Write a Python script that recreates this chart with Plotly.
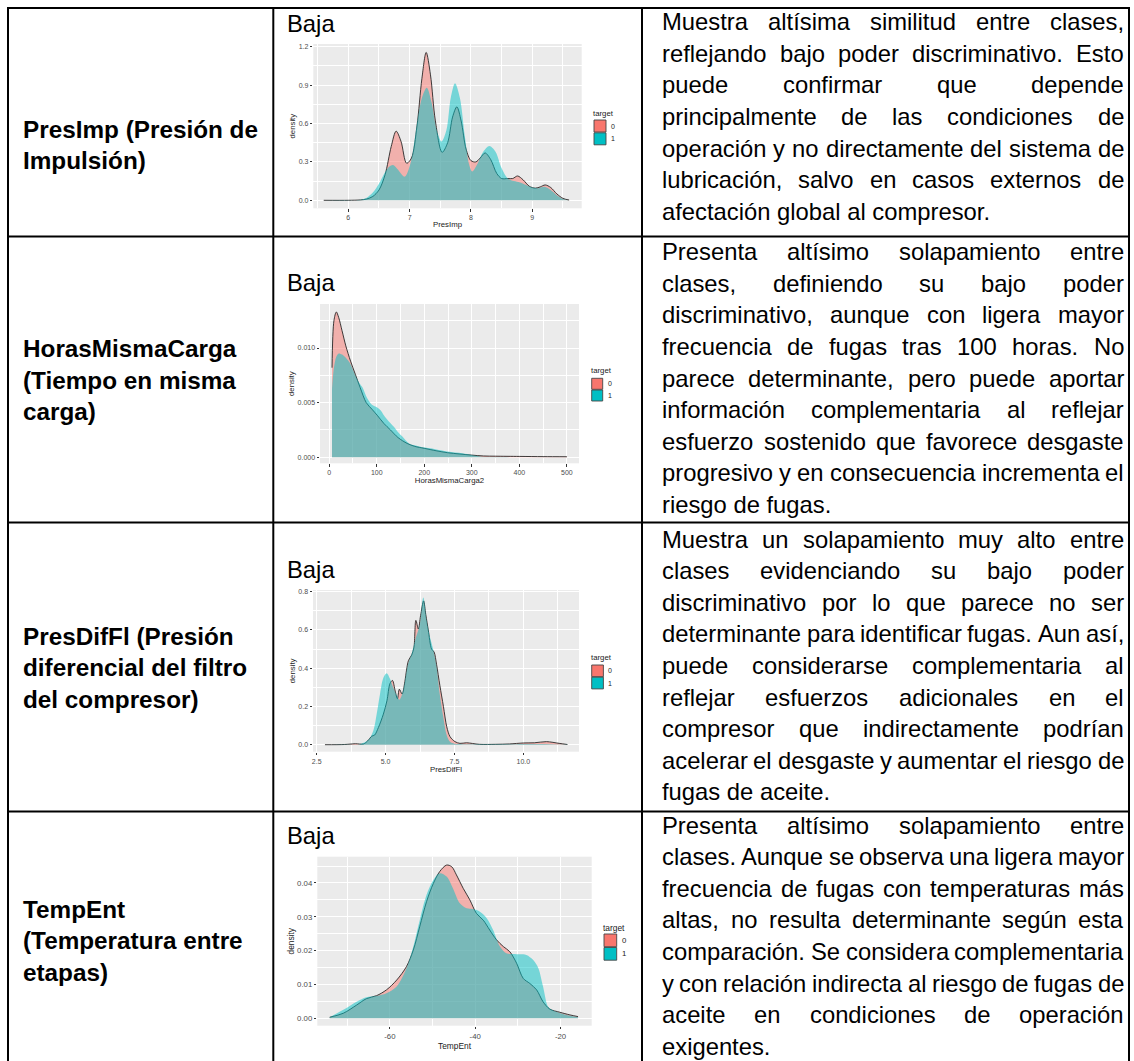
import plotly.graph_objects as go

W, H = 1134, 1061

# ---------------- density data ----------------
# PresImp
presimp_x0 = [5.6, 6.0, 6.2, 6.3, 6.4, 6.5, 6.6, 6.7, 6.78, 6.86, 6.95, 7.03, 7.12, 7.2, 7.27, 7.34, 7.42, 7.53, 7.62, 7.7,
              7.77, 7.84, 7.92, 8.0, 8.08, 8.15, 8.23, 8.32, 8.42, 8.5, 8.6, 8.68, 8.76, 8.85, 8.95, 9.05, 9.13, 9.21, 9.3, 9.4,
              9.5, 9.6]
presimp_y0 = [0.0, 0.0, 0.003, 0.01, 0.03, 0.08, 0.2, 0.42, 0.54, 0.46, 0.29, 0.33, 0.58, 0.95, 1.155, 0.98, 0.62, 0.375, 0.45, 0.65,
              0.73, 0.62, 0.40, 0.31, 0.30, 0.33, 0.37, 0.32, 0.21, 0.17, 0.17, 0.17, 0.19, 0.16, 0.11, 0.095, 0.105, 0.12, 0.10, 0.05,
              0.015, 0.002]
presimp_x1 = [5.6, 6.1, 6.2, 6.3, 6.4, 6.5, 6.6, 6.67, 6.73, 6.8, 6.92, 7.02, 7.12, 7.2, 7.28, 7.36, 7.44, 7.52, 7.6, 7.67,
              7.74, 7.82, 7.9, 7.97, 8.02, 8.1, 8.2, 8.3, 8.4, 8.5, 8.6, 8.7, 8.8, 8.9, 9.0, 9.1, 9.2, 9.3, 9.4, 9.5, 9.6]
presimp_y1 = [0.0, 0.0, 0.004, 0.02, 0.06, 0.13, 0.22, 0.265, 0.276, 0.245, 0.185, 0.3, 0.6, 0.8, 0.88, 0.76, 0.55, 0.46, 0.55, 0.8,
              0.915, 0.8, 0.5, 0.28, 0.225, 0.28, 0.38, 0.425, 0.38, 0.25, 0.17, 0.15, 0.14, 0.12, 0.10, 0.095, 0.105, 0.08, 0.04, 0.01, 0.0]

# HorasMismaCarga2
horas_x0 = [6, 10, 15, 20, 27, 35, 45, 55, 65, 78, 90, 101, 115, 129, 145, 164, 180, 200, 225, 249, 275, 300, 325, 350, 400, 450, 500]
horas_y0 = [0.0082, 0.0125, 0.0133, 0.0128, 0.0116, 0.0102, 0.0088, 0.0076, 0.0064, 0.0050, 0.0044, 0.00385, 0.0031, 0.0025,
            0.0018, 0.00127, 0.001, 0.00082, 0.0006, 0.00042, 0.0003, 0.0002, 0.00012, 0.0001, 0.00008, 0.00006, 0.00005]
horas_x1 = [6, 10, 15, 20, 27, 35, 44, 53, 62, 70, 80, 90, 101, 108, 115, 125, 136, 145, 154, 168, 180, 192, 213, 249, 280, 300,
            320, 350, 400, 450, 500]
horas_y1 = [0.0063, 0.0082, 0.0092, 0.0095, 0.0094, 0.0091, 0.0086, 0.0077, 0.0069, 0.0064, 0.0054, 0.0048, 0.00455, 0.0043,
            0.00385, 0.0033, 0.0028, 0.0023, 0.0019, 0.00127, 0.0011, 0.00097, 0.00082, 0.00052, 0.00036, 0.0002, 0.00006,
            0.00002, 0.00001, 0.0, 0.0]

# PresDifFl
presdif_x0 = [2.8, 3.5, 3.9, 4.2, 4.35, 4.5, 4.6, 4.74, 4.92, 5.05, 5.16, 5.25, 5.35, 5.43, 5.5, 5.6, 5.7, 5.76, 5.83, 5.95,
              6.03, 6.1, 6.19, 6.27, 6.38, 6.46, 6.55, 6.67, 6.76, 6.85, 6.97, 7.1, 7.22, 7.34, 7.52, 7.7, 7.94, 8.4, 9.0, 9.5,
              10.0, 10.4, 10.84, 11.3, 11.6]
presdif_y0 = [0.0, 0.001, 0.005, 0.004, 0.02, 0.045, 0.05, 0.09, 0.16, 0.23, 0.32, 0.336, 0.28, 0.24, 0.29, 0.265, 0.33, 0.39,
              0.44, 0.47, 0.51, 0.65, 0.605, 0.675, 0.752, 0.68, 0.6, 0.5, 0.485, 0.42, 0.31, 0.2, 0.094, 0.042, 0.016, 0.007,
              0.01, 0.002, 0.002, 0.004, 0.009, 0.01, 0.016, 0.007, 0.001]
presdif_x1 = [2.8, 3.5, 4.07, 4.37, 4.56, 4.68, 4.8, 4.92, 5.04, 5.16, 5.25, 5.4, 5.5, 5.64, 5.76, 5.83, 5.95, 6.1, 6.25, 6.37,
              6.49, 6.61, 6.73, 6.85, 6.97, 7.1, 7.22, 7.34, 7.5, 7.8, 8.5, 9.5, 10.5, 11.0, 11.6]
presdif_y1 = [0.0, 0.001, 0.003, 0.024, 0.076, 0.163, 0.267, 0.35, 0.374, 0.345, 0.31, 0.258, 0.235, 0.284, 0.38, 0.43, 0.476,
              0.56, 0.633, 0.77, 0.65, 0.563, 0.497, 0.406, 0.26, 0.14, 0.05, 0.015, 0.005, 0.003, 0.002, 0.003, 0.004, 0.003, 0.001]

# TempEnt
tempent_x0 = [-74.1, -70.9, -67.8, -65.5, -63.1, -60.8, -58.4, -56.1, -54.5, -53.0, -51.4, -49.8, -48.3, -46.7, -45.5, -44.4,
              -42.8, -41.25, -39.7, -38.1, -36.6, -35.0, -33.4, -31.9, -30.3, -28.75, -27.2, -25.6, -24.1, -22.5, -20.2, -17.8, -15.9]
tempent_y0 = [0.0003, 0.0015, 0.0039, 0.0058, 0.0067, 0.0084, 0.0113, 0.0153, 0.0202, 0.0271, 0.0345, 0.0399, 0.0434, 0.0453,
              0.0448, 0.0424, 0.0384, 0.035, 0.031, 0.029, 0.0261, 0.0232, 0.0212, 0.0197, 0.0163, 0.0118, 0.0103, 0.0084,
              0.0049, 0.0027, 0.0018, 0.001, 0.0005]
tempent_x1 = [-74.1, -70.9, -67.8, -65.5, -63.1, -60.8, -58.4, -56.1, -54.5, -53.0, -51.4, -49.8, -48.3, -46.7, -45.2, -43.6,
              -42.0, -40.5, -38.9, -37.3, -35.8, -34.2, -32.7, -31.1, -29.5, -28.0, -26.4, -25.2, -24.1, -22.9, -21.7, -19.4, -15.9]
tempent_y1 = [0.0003, 0.0025, 0.0049, 0.0062, 0.0066, 0.0074, 0.0094, 0.0148, 0.0212, 0.029, 0.0365, 0.0409, 0.0429, 0.0419,
              0.0384, 0.034, 0.0325, 0.0323, 0.0315, 0.0296, 0.0261, 0.0212, 0.0192, 0.019, 0.0189, 0.0187, 0.0172, 0.0148,
              0.0094, 0.0034, 0.0023, 0.0013, 0.0003]

# ---------------- tick labels ----------------
presimp_xticks = [6, 7, 8, 9]
presimp_xlabels = ["6", "7", "8", "9"]
presimp_yticks = [0, 0.3, 0.6, 0.9, 1.2]
presimp_ylabels = ["0.0", "0.3", "0.6", "0.9", "1.2"]
horas_xticks = [0, 100, 200, 300, 400, 500]
horas_xlabels = ["0", "100", "200", "300", "400", "500"]
horas_yticks = [0, 0.005, 0.010]
horas_ylabels = ["0.000", "0.005", "0.010"]
presdif_xticks = [2.5, 5.0, 7.5, 10.0]
presdif_xlabels = ["2.5", "5.0", "7.5", "10.0"]
presdif_yticks = [0, 0.2, 0.4, 0.6, 0.8]
presdif_ylabels = ["0.0", "0.2", "0.4", "0.6", "0.8"]
tempent_xticks = [-60, -40, -20]
tempent_xlabels = ["-60", "-40", "-20"]
tempent_yticks = [0, 0.01, 0.02, 0.03, 0.04]
tempent_ylabels = ["0.00", "0.01", "0.02", "0.03", "0.04"]

series_names = ["0", "1"]
legend_title = "target"

# ---------------- table text ----------------
col1_text = [
    ["PresImp (Presión de", "Impulsión)"],
    ["HorasMismaCarga", "(Tiempo en misma", "carga)"],
    ["PresDifFl (Presión", "diferencial del filtro", "del compresor)"],
    ["TempEnt", "(Temperatura entre", "etapas)"],
]
col2_text = ["Baja", "Baja", "Baja", "Baja"]
col3_text = [
    ["Muestra altísima similitud entre clases,",
     "reflejando bajo poder discriminativo. Esto",
     "puede confirmar que depende",
     "principalmente de las condiciones de",
     "operación y no directamente del sistema de",
     "lubricación, salvo en casos externos de",
     "afectación global al compresor."],
    ["Presenta altísimo solapamiento entre",
     "clases, definiendo su bajo poder",
     "discriminativo, aunque con ligera mayor",
     "frecuencia de fugas tras 100 horas. No",
     "parece determinante, pero puede aportar",
     "información complementaria al reflejar",
     "esfuerzo sostenido que favorece desgaste",
     "progresivo y en consecuencia incrementa el",
     "riesgo de fugas."],
    ["Muestra un solapamiento muy alto entre",
     "clases evidenciando su bajo poder",
     "discriminativo por lo que parece no ser",
     "determinante para identificar fugas. Aun así,",
     "puede considerarse complementaria al",
     "reflejar esfuerzos adicionales en el",
     "compresor que indirectamente podrían",
     "acelerar el desgaste y aumentar el riesgo de",
     "fugas de aceite."],
    ["Presenta altísimo solapamiento entre",
     "clases. Aunque se observa una ligera mayor",
     "frecuencia de fugas con temperaturas más",
     "altas, no resulta determinante según esta",
     "comparación. Se considera complementaria",
     "y con relación indirecta al riesgo de fugas de",
     "aceite en condiciones de operación",
     "exigentes."],
]

# ---------------- layout constants ----------------
FONT = "Liberation Sans, Arial, Helvetica, sans-serif"
FS = 23.8
FSB = 24.3
LS = 31.6
RED = "#F8766D"
CYAN = "#00BFC4"
RED_FILL = "rgba(248,118,109,0.5)"
CYAN_FILL = "rgba(0,191,196,0.5)"

# Arial / Liberation Sans advance widths (1/1000 em)
ARIAL = {' ': 278, ',': 278, '.': 278, '(': 333, ')': 333, '-': 333,
         'A': 667, 'B': 667, 'C': 722, 'D': 722, 'E': 667, 'F': 611, 'G': 778, 'H': 722, 'I': 278, 'J': 500,
         'K': 667, 'L': 556, 'M': 833, 'N': 722, 'O': 778, 'P': 667, 'Q': 778, 'R': 722, 'S': 667, 'T': 611,
         'U': 722, 'V': 667, 'W': 944, 'X': 667, 'Y': 667, 'Z': 611,
         'a': 556, 'b': 556, 'c': 500, 'd': 556, 'e': 556, 'f': 278, 'g': 556, 'h': 556, 'i': 222, 'j': 222,
         'k': 500, 'l': 222, 'm': 833, 'n': 556, 'o': 556, 'p': 556, 'q': 556, 'r': 333, 's': 500, 't': 278,
         'u': 556, 'v': 500, 'w': 722, 'x': 500, 'y': 500, 'z': 500,
         'á': 556, 'é': 556, 'í': 278, 'ó': 556, 'ú': 556, 'ñ': 556}


def text_width(s, size):
    return sum(ARIAL.get(c, 556) for c in s) / 1000.0 * size


def fx(px):
    return px / W


def fy(py):
    return 1 - py / H


annotations = []
shapes = []


def add_text(x, y, text, size, anchor="left", bold=False, color="black", angle=0):
    annotations.append(dict(
        x=fx(x), y=fy(y), xref="paper", yref="paper",
        text=("<b>%s</b>" % text) if bold else text,
        showarrow=False, xanchor=anchor, yanchor="middle",
        borderpad=0, borderwidth=0, textangle=angle,
        font=dict(family=FONT, size=size, color=color)))


# ---------------- table borders ----------------
TX0, TX1 = 8, 1129
COLS = [273.3, 642]
ROWS = [8, 236.5, 522.5, 811.5]
for y in ROWS:
    shapes.append(dict(type="line", xref="paper", yref="paper", x0=fx(TX0 - 1), x1=fx(TX1 + 1), y0=fy(y), y1=fy(y),
                       line=dict(color="black", width=2)))
for x in [TX0] + COLS + [TX1]:
    shapes.append(dict(type="line", xref="paper", yref="paper", x0=fx(x), x1=fx(x), y0=fy(ROWS[0] - 1), y1=fy(H + 5),
                       line=dict(color="black", width=2)))

# ---------------- column 1 (bold names) ----------------
col1_first = [129, 348.7, 636, 909]
for r, lines in enumerate(col1_text):
    for i, line in enumerate(lines):
        add_text(23, col1_first[r] + i * LS, line, FSB, bold=True)

# ---------------- column 2 ("Baja") ----------------
col2_y = [23, 282.5, 569.5, 835.8]
for r, t in enumerate(col2_text):
    add_text(287, col2_y[r], t, FS)

# ---------------- column 3 (justified paragraphs) ----------------
TL, TR = 662, 1124
col3_first = [21.7, 251.7, 539, 825]
for r, lines in enumerate(col3_text):
    for i, line in enumerate(lines):
        y = col3_first[r] + i * LS
        words = line.split(" ")
        if i == len(lines) - 1 or len(words) == 1:
            add_text(TL, y, line, FS)
            continue
        widths = [text_width(w, FS) for w in words]
        gap = (TR - TL - sum(widths)) / (len(words) - 1)
        x = TL
        for j, w in enumerate(words):
            if j == len(words) - 1:
                add_text(TR, y, w, FS, anchor="right")
            else:
                add_text(x, y, w, FS)
            x += widths[j] + gap

# ---------------- density panels ----------------
panels = [
    dict(x0=presimp_x0, y0=presimp_y0, x1=presimp_x1, y1=presimp_y1,
         box=(313.3, 581.7, 44, 208.3), xr=[5.43, 9.805], yr=[-0.0625, 1.221],
         xt=presimp_xticks, xl=presimp_xlabels, yt=presimp_yticks, yl=presimp_ylabels,
         xminor=0.5, yminor=0.15, xtitle="PresImp", tick=7, title=7.8,
         leg=(594, 113, 120, 12, 12.8)),
    dict(x0=horas_x0, y0=horas_y0, x1=horas_x1, y1=horas_y1,
         box=(320, 579, 304, 463.3), xr=[-19.3, 525.5], yr=[-0.00055, 0.01403],
         xt=horas_xticks, xl=horas_xlabels, yt=horas_yticks, yl=horas_ylabels,
         xminor=50, yminor=0.0025, xtitle="HorasMismaCarga2", tick=7, title=7.8,
         leg=(591.7, 370.7, 378.3, 11, 11.7)),
    dict(x0=presdif_x0, y0=presdif_y0, x1=presdif_x1, y1=presdif_y1,
         box=(313, 579, 590, 751.7), xr=[2.366, 12.02], yr=[-0.0366, 0.809],
         xt=presdif_xticks, xl=presdif_xlabels, yt=presdif_yticks, yl=presdif_ylabels,
         xminor=1.25, yminor=0.1, xtitle="PresDifFl", tick=7, title=7.8,
         leg=(591.7, 657.3, 665, 11.7, 12.2)),
    dict(x0=tempent_x0, y0=tempent_y0, x1=tempent_x1, y1=tempent_y1,
         box=(317.3, 591.7, 856.7, 1025.7), xr=[-77.0, -12.7], yr=[-0.00219, 0.04777],
         xt=tempent_xticks, xl=tempent_xlabels, yt=tempent_yticks, yl=tempent_ylabels,
         xminor=10, yminor=0.005, xtitle="TempEnt", tick=7.8, title=8.4,
         leg=(604, 928.3, 934, 12.7, 13.5)),
]

fig = go.Figure()
layout_axes = {}
for k, p in enumerate(panels):
    n = k + 1
    xa = "x" if n == 1 else "x%d" % n
    ya = "y" if n == 1 else "y%d" % n
    fig.add_trace(go.Scatter(x=p["x0"], y=p["y0"], xaxis=xa, yaxis=ya, name=series_names[0], mode="lines",
                             fill="tozeroy", fillcolor=RED_FILL,
                             line=dict(color="rgba(30,30,30,0.85)", width=1, shape="spline", smoothing=0.9),
                             showlegend=False, hoverinfo="skip"))
    fig.add_trace(go.Scatter(x=p["x1"], y=p["y1"], xaxis=xa, yaxis=ya, name=series_names[1], mode="lines",
                             fill="tozeroy", fillcolor=CYAN_FILL,
                             line=dict(color="rgba(0,0,0,0)", width=0, shape="spline", smoothing=0.9),
                             showlegend=False, hoverinfo="skip"))
    bx0, bx1, by0, by1 = p["box"]
    common = dict(showgrid=True, gridcolor="white", gridwidth=1.1, zeroline=False, showline=False,
                  ticks="outside", ticklen=2.5, tickwidth=1, tickcolor="#333333",
                  tickfont=dict(family=FONT, size=p["tick"], color="#4D4D4D"),
                  automargin=False, tickmode="array", fixedrange=True)
    layout_axes["xaxis" if n == 1 else "xaxis%d" % n] = dict(
        common, domain=[fx(bx0), fx(bx1)], range=p["xr"], anchor=ya,
        tickvals=p["xt"], ticktext=p["xl"],
        minor=dict(tickmode="linear", tick0=0, dtick=p["xminor"], showgrid=True, gridcolor="white",
                   gridwidth=0.5, ticks=""),
        title=dict(text=p["xtitle"], standoff=1, font=dict(family=FONT, size=p["title"], color="#1A1A1A")))
    layout_axes["yaxis" if n == 1 else "yaxis%d" % n] = dict(
        common, domain=[fy(by1), fy(by0)], range=p["yr"], anchor=xa,
        tickvals=p["yt"], ticktext=p["yl"],
        minor=dict(tickmode="linear", tick0=0, dtick=p["yminor"], showgrid=True, gridcolor="white",
                   gridwidth=0.5, ticks=""),
        title=dict(text="density", standoff=1, font=dict(family=FONT, size=p["title"], color="#1A1A1A")))

    # legend (ggplot style keys)
    lx, lty, ktop, ks, kstep = p["leg"]
    add_text(lx - 1, lty, legend_title, p["title"], color="#1A1A1A")
    for j, (col, name) in enumerate(zip([RED, CYAN], series_names)):
        top = ktop + j * kstep
        shapes.append(dict(type="rect", xref="paper", yref="paper",
                           x0=fx(lx), x1=fx(lx + ks), y0=fy(top + ks), y1=fy(top),
                           fillcolor=col, line=dict(color="rgba(70,70,70,0.9)", width=1)))
        add_text(lx + ks + 5, top + ks / 2, name, p["tick"], color="#1A1A1A")

fig.update_layout(
    width=W, height=H, autosize=False,
    margin=dict(l=0, r=0, t=0, b=0, pad=0),
    paper_bgcolor="white", plot_bgcolor="#EBEBEB",
    showlegend=False,
    font=dict(family=FONT),
    annotations=annotations, shapes=shapes,
    **layout_axes)

fig.write_html("out.html", config={"displayModeBar": False})
